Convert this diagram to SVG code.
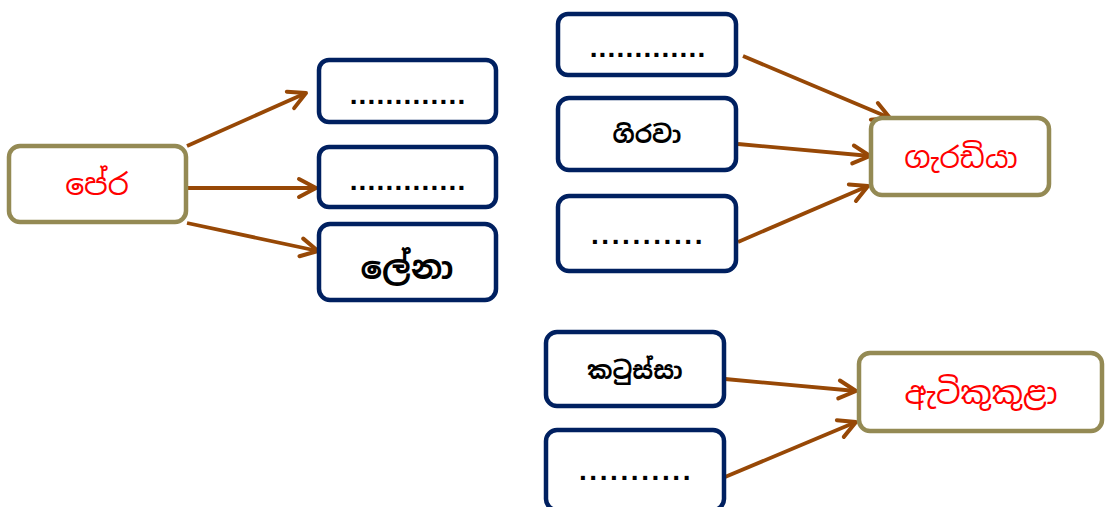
<svg xmlns="http://www.w3.org/2000/svg" width="1106" height="507" viewBox="0 0 1106 507">
<defs>
<marker id="arr" markerUnits="userSpaceOnUse" markerWidth="24" markerHeight="24" viewBox="0 0 24 24" refX="21" refY="12" orient="auto">
<path d="M4,3 L21,12 L4,21" fill="none" stroke="#974806" stroke-width="4" stroke-linecap="round" stroke-linejoin="round"/>
</marker>
<style>
.src{fill:#fff;stroke:#948A54;stroke-width:4.5}
.box{fill:#fff;stroke:#002060;stroke-width:4.5}
.red{fill:#FF0000;font-family:"Noto Sans Sinhala","Iskoola Pota","Noto Sans","DejaVu Sans",sans-serif;font-size:29px;text-anchor:middle}
.blk{fill:#000;font-family:"Noto Sans Sinhala","Iskoola Pota","Noto Sans","DejaVu Sans",sans-serif;font-size:25px;font-weight:bold;text-anchor:middle}
.dots{fill:#000;font-family:"Liberation Sans",Arial,sans-serif;font-size:28px;font-weight:bold;text-anchor:middle;letter-spacing:1.2px}
.dots2{letter-spacing:2.6px}
.conn line{stroke:#974806;stroke-width:3.8;marker-end:url(#arr)}
</style>
</defs>
<g class="conn">
<line x1="187" y1="146" x2="306" y2="93"/>
<line x1="187" y1="188" x2="316" y2="188"/>
<line x1="187" y1="223" x2="318" y2="251"/>
<line x1="743" y1="56" x2="890" y2="118"/>
<line x1="738" y1="144" x2="870" y2="156"/>
<line x1="738" y1="242" x2="868" y2="186"/>
<line x1="725" y1="379" x2="856" y2="391"/>
<line x1="725" y1="477" x2="856" y2="422"/>
</g>
<g id="pera">
<rect class="src" x="9" y="146" width="177" height="76" rx="11"/>
<text class="red" x="97" y="195" style="font-size:30px">පේර</text>
</g>
<g id="n1">
<rect class="box" x="319" y="60" width="177" height="62" rx="10"/>
<text class="dots" x="408" y="104">.............</text>
</g>
<g id="n2">
<rect class="box" x="319" y="147" width="177" height="60" rx="10"/>
<text class="dots" x="408" y="190">.............</text>
</g>
<g id="lena">
<rect class="box" x="319" y="224" width="177" height="76" rx="11"/>
<text class="blk" x="407" y="279" style="font-size:32px">ලේනා</text>
</g>
<g id="n3">
<rect class="box" x="558" y="14" width="178" height="61" rx="10"/>
<text class="dots" x="648" y="57">.............</text>
</g>
<g id="girava">
<rect class="box" x="558" y="98" width="178" height="72" rx="11"/>
<text class="blk" x="647" y="143" style="font-size:24px">ගිරවා</text>
</g>
<g id="n4">
<rect class="box" x="558" y="196" width="178" height="75" rx="11"/>
<text class="dots dots2" x="648" y="244">...........</text>
</g>
<g id="garadiya">
<rect class="src" x="871" y="118" width="178" height="77" rx="11"/>
<text class="red" x="961" y="168">ගැරඩියා</text>
</g>
<g id="katussa">
<rect class="box" x="546" y="332" width="178" height="74" rx="11"/>
<text class="blk" x="635" y="379" style="font-size:24px">කටුස්සා</text>
</g>
<g id="n5">
<rect class="box" x="546" y="430" width="178" height="80" rx="11"/>
<text class="dots dots2" x="636" y="480">...........</text>
</g>
<g id="atikukula">
<rect class="src" x="859" y="353" width="243" height="78" rx="11"/>
<text class="red" x="981" y="404" style="font-size:31px">ඇටිකුකුළා</text>
</g>
</svg>
